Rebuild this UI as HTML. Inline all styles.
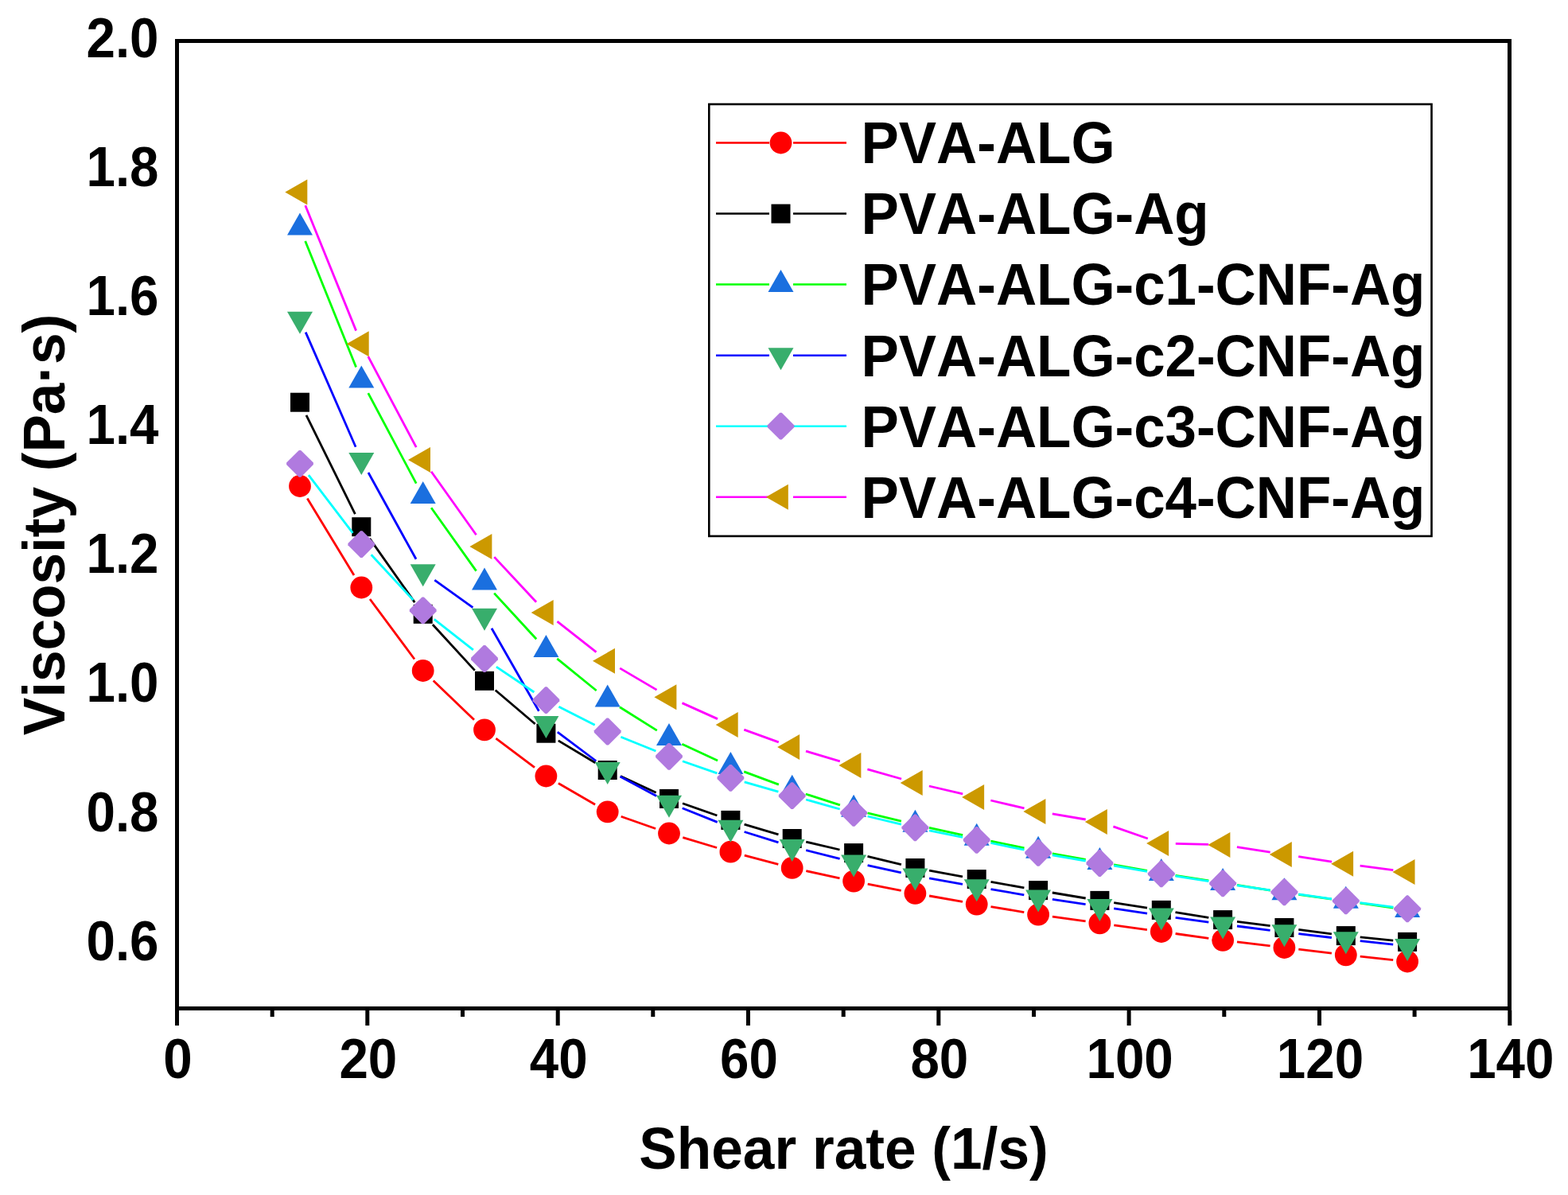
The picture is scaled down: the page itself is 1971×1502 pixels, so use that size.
<!DOCTYPE html>
<html><head><meta charset="utf-8"><title>Viscosity vs Shear rate</title>
<style>html,body{margin:0;padding:0;background:#fff;}svg{display:block;}</style></head>
<body>
<svg width="1971" height="1502" viewBox="0 0 1971 1502">
<rect width="1971" height="1502" fill="#fff"/>
<path d="M386.3 626.4L445.0 723.1M465.0 753.0L521.0 828.5M544.7 855.5L596.0 904.8M623.4 928.1L672.0 964.7M701.9 984.5L748.1 1011.3M780.7 1026.3L824.1 1041.5M858.3 1052.7L901.1 1065.5M935.8 1075.2L978.3 1086.4M1013.3 1094.7L1055.5 1103.8M1090.7 1111.1L1132.7 1119.3M1168.1 1126.0L1210.0 1133.4M1245.5 1139.6L1287.3 1146.6M1322.9 1152.1L1364.6 1157.9M1400.3 1162.8L1441.9 1168.6M1477.6 1173.5L1519.3 1179.3M1555.0 1183.9L1596.6 1188.9M1632.3 1193.1L1673.9 1198.2M1709.7 1202.2L1751.2 1206.6" stroke="#FF0000" stroke-width="2.8" fill="none"/>
<circle cx="377.0" cy="611.0" r="13.9" fill="#FF0000"/>
<circle cx="454.3" cy="738.5" r="13.9" fill="#FF0000"/>
<circle cx="531.7" cy="843.0" r="13.9" fill="#FF0000"/>
<circle cx="609.0" cy="917.3" r="13.9" fill="#FF0000"/>
<circle cx="686.4" cy="975.5" r="13.9" fill="#FF0000"/>
<circle cx="763.7" cy="1020.3" r="13.9" fill="#FF0000"/>
<circle cx="841.0" cy="1047.5" r="13.9" fill="#FF0000"/>
<circle cx="918.4" cy="1070.7" r="13.9" fill="#FF0000"/>
<circle cx="995.7" cy="1090.9" r="13.9" fill="#FF0000"/>
<circle cx="1073.1" cy="1107.6" r="13.9" fill="#FF0000"/>
<circle cx="1150.4" cy="1122.8" r="13.9" fill="#FF0000"/>
<circle cx="1227.7" cy="1136.6" r="13.9" fill="#FF0000"/>
<circle cx="1305.1" cy="1149.6" r="13.9" fill="#FF0000"/>
<circle cx="1382.4" cy="1160.4" r="13.9" fill="#FF0000"/>
<circle cx="1459.8" cy="1171.0" r="13.9" fill="#FF0000"/>
<circle cx="1537.1" cy="1181.8" r="13.9" fill="#FF0000"/>
<circle cx="1614.4" cy="1191.0" r="13.9" fill="#FF0000"/>
<circle cx="1691.8" cy="1200.3" r="13.9" fill="#FF0000"/>
<circle cx="1769.1" cy="1208.5" r="13.9" fill="#FF0000"/>
<path d="M385.0 521.8L446.4 646.1M464.7 676.9L521.3 757.1M543.9 785.0L596.8 842.6M622.7 867.5L672.7 910.0M701.8 930.9L748.3 958.8M780.0 975.6L824.7 996.3M858.0 1009.8L901.4 1025.0M935.6 1036.1L978.5 1048.8M1013.2 1058.1L1055.5 1068.0M1090.5 1076.4L1132.9 1086.7M1168.1 1094.2L1210.0 1101.9M1245.5 1108.3L1287.4 1115.9M1322.8 1122.0L1364.7 1129.0M1400.2 1134.7L1442.0 1141.1M1477.5 1146.7L1519.3 1153.3M1555.0 1158.4L1596.6 1163.7M1632.3 1168.3L1673.9 1173.8M1709.7 1177.9L1751.2 1182.1" stroke="#000000" stroke-width="2.8" fill="none"/>
<rect x="365.0" y="493.7" width="24" height="24" fill="#000000"/>
<rect x="442.3" y="650.2" width="24" height="24" fill="#000000"/>
<rect x="519.7" y="759.8" width="24" height="24" fill="#000000"/>
<rect x="597.0" y="843.8" width="24" height="24" fill="#000000"/>
<rect x="674.4" y="909.7" width="24" height="24" fill="#000000"/>
<rect x="751.7" y="956.0" width="24" height="24" fill="#000000"/>
<rect x="829.0" y="991.9" width="24" height="24" fill="#000000"/>
<rect x="906.4" y="1018.9" width="24" height="24" fill="#000000"/>
<rect x="983.7" y="1042.0" width="24" height="24" fill="#000000"/>
<rect x="1061.1" y="1060.1" width="24" height="24" fill="#000000"/>
<rect x="1138.4" y="1079.0" width="24" height="24" fill="#000000"/>
<rect x="1215.7" y="1093.1" width="24" height="24" fill="#000000"/>
<rect x="1293.1" y="1107.1" width="24" height="24" fill="#000000"/>
<rect x="1370.4" y="1119.9" width="24" height="24" fill="#000000"/>
<rect x="1447.8" y="1131.9" width="24" height="24" fill="#000000"/>
<rect x="1525.1" y="1144.1" width="24" height="24" fill="#000000"/>
<rect x="1602.4" y="1154.0" width="24" height="24" fill="#000000"/>
<rect x="1679.8" y="1164.1" width="24" height="24" fill="#000000"/>
<rect x="1757.1" y="1171.9" width="24" height="24" fill="#000000"/>
<path d="M383.7 303.0L447.6 461.5M462.8 494.1L523.2 607.7M542.1 638.3L598.6 717.6M621.2 745.6L674.2 803.3M700.3 827.9L749.7 868.0M779.0 888.8L825.8 918.1M857.4 935.2L902.1 956.0M935.2 969.9L978.9 986.1M1012.8 998.0L1055.9 1011.9M1090.5 1021.8L1132.9 1032.2M1168.0 1040.4L1210.2 1049.6M1245.4 1057.1L1287.5 1065.9M1322.8 1072.8L1364.7 1080.4M1400.1 1086.9L1442.0 1094.5M1477.6 1100.4L1519.3 1106.9M1554.9 1112.4L1596.7 1119.1M1632.3 1124.3L1673.9 1130.1M1709.6 1135.1L1751.3 1141.0" stroke="#00FF00" stroke-width="2.8" fill="none"/>
<polygon points="377.0,267.6 393.0,295.6 361.0,295.6" fill="#1A6FDF"/>
<polygon points="454.3,459.5 470.3,487.5 438.3,487.5" fill="#1A6FDF"/>
<polygon points="531.7,604.9 547.7,632.9 515.7,632.9" fill="#1A6FDF"/>
<polygon points="609.0,713.6 625.0,741.6 593.0,741.6" fill="#1A6FDF"/>
<polygon points="686.4,797.9 702.4,825.9 670.4,825.9" fill="#1A6FDF"/>
<polygon points="763.7,860.6 779.7,888.6 747.7,888.6" fill="#1A6FDF"/>
<polygon points="841.0,908.9 857.0,936.9 825.0,936.9" fill="#1A6FDF"/>
<polygon points="918.4,944.9 934.4,972.9 902.4,972.9" fill="#1A6FDF"/>
<polygon points="995.7,973.7 1011.7,1001.7 979.7,1001.7" fill="#1A6FDF"/>
<polygon points="1073.1,998.8 1089.1,1026.8 1057.1,1026.8" fill="#1A6FDF"/>
<polygon points="1150.4,1017.8 1166.4,1045.8 1134.4,1045.8" fill="#1A6FDF"/>
<polygon points="1227.7,1034.8 1243.7,1062.8 1211.7,1062.8" fill="#1A6FDF"/>
<polygon points="1305.1,1050.8 1321.1,1078.8 1289.1,1078.8" fill="#1A6FDF"/>
<polygon points="1382.4,1065.0 1398.4,1093.0 1366.4,1093.0" fill="#1A6FDF"/>
<polygon points="1459.8,1079.0 1475.8,1107.0 1443.8,1107.0" fill="#1A6FDF"/>
<polygon points="1537.1,1090.9 1553.1,1118.9 1521.1,1118.9" fill="#1A6FDF"/>
<polygon points="1614.4,1103.2 1630.4,1131.2 1598.4,1131.2" fill="#1A6FDF"/>
<polygon points="1691.8,1113.8 1707.8,1141.8 1675.8,1141.8" fill="#1A6FDF"/>
<polygon points="1769.1,1124.9 1785.1,1152.9 1753.1,1152.9" fill="#1A6FDF"/>
<path d="M384.2 417.6L447.1 561.7M463.0 594.0L523.0 702.8M546.3 729.1L594.4 763.6M618.0 789.7L677.4 893.7M700.8 920.1L749.3 956.5M779.5 975.9L825.2 1000.5M857.7 1015.8L901.7 1033.4M935.6 1045.5L978.5 1058.9M1013.2 1068.7L1055.6 1079.3M1090.6 1087.6L1132.8 1096.8M1168.1 1103.9L1210.0 1111.4M1245.5 1117.6L1287.3 1124.8M1322.9 1130.4L1364.6 1136.7M1400.2 1141.9L1442.0 1148.2M1477.6 1153.3L1519.3 1159.2M1555.0 1164.0L1596.6 1169.3M1632.3 1173.7L1673.9 1178.5M1709.7 1182.6L1751.2 1187.2" stroke="#0000FF" stroke-width="2.8" fill="none"/>
<polygon points="377.0,419.8 393.0,391.8 361.0,391.8" fill="#38AE6C"/>
<polygon points="454.3,596.9 470.3,568.9 438.3,568.9" fill="#38AE6C"/>
<polygon points="531.7,737.3 547.7,709.3 515.7,709.3" fill="#38AE6C"/>
<polygon points="609.0,792.8 625.0,764.8 593.0,764.8" fill="#38AE6C"/>
<polygon points="686.4,928.0 702.4,900.0 670.4,900.0" fill="#38AE6C"/>
<polygon points="763.7,986.0 779.7,958.0 747.7,958.0" fill="#38AE6C"/>
<polygon points="841.0,1027.8 857.0,999.8 825.0,999.8" fill="#38AE6C"/>
<polygon points="918.4,1058.8 934.4,1030.8 902.4,1030.8" fill="#38AE6C"/>
<polygon points="995.7,1083.0 1011.7,1055.0 979.7,1055.0" fill="#38AE6C"/>
<polygon points="1073.1,1102.4 1089.1,1074.4 1057.1,1074.4" fill="#38AE6C"/>
<polygon points="1150.4,1119.4 1166.4,1091.4 1134.4,1091.4" fill="#38AE6C"/>
<polygon points="1227.7,1133.3 1243.7,1105.3 1211.7,1105.3" fill="#38AE6C"/>
<polygon points="1305.1,1146.5 1321.1,1118.5 1289.1,1118.5" fill="#38AE6C"/>
<polygon points="1382.4,1158.0 1398.4,1130.0 1366.4,1130.0" fill="#38AE6C"/>
<polygon points="1459.8,1169.5 1475.8,1141.5 1443.8,1141.5" fill="#38AE6C"/>
<polygon points="1537.1,1180.4 1553.1,1152.4 1521.1,1152.4" fill="#38AE6C"/>
<polygon points="1614.4,1190.3 1630.4,1162.3 1598.4,1162.3" fill="#38AE6C"/>
<polygon points="1691.8,1199.3 1707.8,1171.3 1675.8,1171.3" fill="#38AE6C"/>
<polygon points="1769.1,1207.9 1785.1,1179.9 1753.1,1179.9" fill="#38AE6C"/>
<path d="M387.9 597.1L443.4 669.8M466.6 697.3L519.4 754.1M545.8 778.4L594.9 816.9M623.9 838.1L671.4 870.0M702.4 888.3L747.7 911.3M780.4 926.3L824.4 944.0M858.0 956.7L901.4 971.9M935.7 982.8L978.4 995.2M1013.1 1005.0L1055.7 1017.0M1090.6 1026.0L1132.9 1036.2M1168.1 1043.9L1210.1 1052.3M1245.4 1059.5L1287.5 1068.2M1322.8 1074.9L1364.7 1082.0M1400.2 1088.1L1442.0 1095.3M1477.5 1101.2L1519.3 1107.6M1554.9 1112.9L1596.6 1118.9M1632.3 1123.9L1674.0 1129.9M1709.6 1134.7L1751.3 1140.1" stroke="#00FFFF" stroke-width="2.8" fill="none"/>
<polygon points="375.8,565.9 378.2,565.9 393.9,581.6 393.9,584.0 378.2,599.7 375.8,599.7 360.1,584.0 360.1,581.6" fill="#B07ADF"/>
<polygon points="453.1,667.2 455.5,667.2 471.2,682.9 471.2,685.3 455.5,701.0 453.1,701.0 437.4,685.3 437.4,682.9" fill="#B07ADF"/>
<polygon points="530.5,750.4 532.9,750.4 548.6,766.1 548.6,768.5 532.9,784.2 530.5,784.2 514.8,768.5 514.8,766.1" fill="#B07ADF"/>
<polygon points="607.8,811.1 610.2,811.1 625.9,826.8 625.9,829.2 610.2,844.9 607.8,844.9 592.1,829.2 592.1,826.8" fill="#B07ADF"/>
<polygon points="685.2,863.2 687.6,863.2 703.3,878.9 703.3,881.3 687.6,897.0 685.2,897.0 669.5,881.3 669.5,878.9" fill="#B07ADF"/>
<polygon points="762.5,902.6 764.9,902.6 780.6,918.3 780.6,920.7 764.9,936.4 762.5,936.4 746.8,920.7 746.8,918.3" fill="#B07ADF"/>
<polygon points="839.8,933.9 842.2,933.9 857.9,949.6 857.9,952.0 842.2,967.7 839.8,967.7 824.1,952.0 824.1,949.6" fill="#B07ADF"/>
<polygon points="917.2,960.9 919.6,960.9 935.3,976.6 935.3,979.0 919.6,994.7 917.2,994.7 901.5,979.0 901.5,976.6" fill="#B07ADF"/>
<polygon points="994.5,983.3 996.9,983.3 1012.6,999.0 1012.6,1001.4 996.9,1017.1 994.5,1017.1 978.8,1001.4 978.8,999.0" fill="#B07ADF"/>
<polygon points="1071.9,1004.9 1074.3,1004.9 1090.0,1020.6 1090.0,1023.0 1074.3,1038.7 1071.9,1038.7 1056.2,1023.0 1056.2,1020.6" fill="#B07ADF"/>
<polygon points="1149.2,1023.5 1151.6,1023.5 1167.3,1039.2 1167.3,1041.6 1151.6,1057.3 1149.2,1057.3 1133.5,1041.6 1133.5,1039.2" fill="#B07ADF"/>
<polygon points="1226.5,1038.9 1228.9,1038.9 1244.6,1054.6 1244.6,1057.0 1228.9,1072.7 1226.5,1072.7 1210.8,1057.0 1210.8,1054.6" fill="#B07ADF"/>
<polygon points="1303.9,1055.0 1306.3,1055.0 1322.0,1070.7 1322.0,1073.1 1306.3,1088.8 1303.9,1088.8 1288.2,1073.1 1288.2,1070.7" fill="#B07ADF"/>
<polygon points="1381.2,1068.1 1383.6,1068.1 1399.3,1083.8 1399.3,1086.2 1383.6,1101.9 1381.2,1101.9 1365.5,1086.2 1365.5,1083.8" fill="#B07ADF"/>
<polygon points="1458.6,1081.5 1461.0,1081.5 1476.7,1097.2 1476.7,1099.6 1461.0,1115.3 1458.6,1115.3 1442.9,1099.6 1442.9,1097.2" fill="#B07ADF"/>
<polygon points="1535.9,1093.5 1538.3,1093.5 1554.0,1109.2 1554.0,1111.6 1538.3,1127.3 1535.9,1127.3 1520.2,1111.6 1520.2,1109.2" fill="#B07ADF"/>
<polygon points="1613.2,1104.5 1615.6,1104.5 1631.3,1120.2 1631.3,1122.6 1615.6,1138.3 1613.2,1138.3 1597.5,1122.6 1597.5,1120.2" fill="#B07ADF"/>
<polygon points="1690.6,1115.5 1693.0,1115.5 1708.7,1131.2 1708.7,1133.6 1693.0,1149.3 1690.6,1149.3 1674.9,1133.6 1674.9,1131.2" fill="#B07ADF"/>
<polygon points="1767.9,1125.5 1770.3,1125.5 1786.0,1141.2 1786.0,1143.6 1770.3,1159.3 1767.9,1159.3 1752.2,1143.6 1752.2,1141.2" fill="#B07ADF"/>
<path d="M383.8 258.3L447.6 415.6M462.8 448.2L523.2 562.2M542.1 592.8L598.6 672.2M621.3 700.1L674.1 756.8M700.5 781.1L749.5 819.7M779.2 839.9L825.5 867.1M857.5 883.6L902.0 903.6M935.3 917.1L978.8 932.9M1013.0 944.1L1055.8 956.8M1090.4 966.8L1133.1 979.0M1167.9 988.0L1210.2 997.8M1245.3 1006.0L1287.5 1015.8M1322.8 1022.9L1364.7 1030.0M1399.4 1038.9L1442.8 1054.0M1477.8 1060.4L1519.1 1061.4M1554.9 1064.7L1596.7 1071.1M1632.2 1076.6L1674.0 1083.1M1709.6 1088.2L1751.3 1093.6" stroke="#FF00FF" stroke-width="2.8" fill="none"/>
<polygon points="358.3,241.6 386.3,225.6 386.3,257.6" fill="#CC9900"/>
<polygon points="435.7,432.3 463.7,416.3 463.7,448.3" fill="#CC9900"/>
<polygon points="513.0,578.1 541.0,562.1 541.0,594.1" fill="#CC9900"/>
<polygon points="590.4,686.9 618.4,670.9 618.4,702.9" fill="#CC9900"/>
<polygon points="667.7,770.0 695.7,754.0 695.7,786.0" fill="#CC9900"/>
<polygon points="745.0,830.8 773.0,814.8 773.0,846.8" fill="#CC9900"/>
<polygon points="822.4,876.2 850.4,860.2 850.4,892.2" fill="#CC9900"/>
<polygon points="899.7,911.0 927.7,895.0 927.7,927.0" fill="#CC9900"/>
<polygon points="977.1,939.0 1005.1,923.0 1005.1,955.0" fill="#CC9900"/>
<polygon points="1054.4,961.9 1082.4,945.9 1082.4,977.9" fill="#CC9900"/>
<polygon points="1131.7,983.9 1159.7,967.9 1159.7,999.9" fill="#CC9900"/>
<polygon points="1209.1,1001.9 1237.1,985.9 1237.1,1017.9" fill="#CC9900"/>
<polygon points="1286.4,1019.9 1314.4,1003.9 1314.4,1035.9" fill="#CC9900"/>
<polygon points="1363.8,1033.0 1391.8,1017.0 1391.8,1049.0" fill="#CC9900"/>
<polygon points="1441.1,1059.9 1469.1,1043.9 1469.1,1075.9" fill="#CC9900"/>
<polygon points="1518.4,1061.9 1546.4,1045.9 1546.4,1077.9" fill="#CC9900"/>
<polygon points="1595.8,1073.9 1623.8,1057.9 1623.8,1089.9" fill="#CC9900"/>
<polygon points="1673.1,1085.8 1701.1,1069.8 1701.1,1101.8" fill="#CC9900"/>
<polygon points="1750.5,1096.0 1778.5,1080.0 1778.5,1112.0" fill="#CC9900"/>
<rect x="222.5" y="51.5" width="1675" height="1216" fill="none" stroke="#000" stroke-width="5"/>
<path d="M222.5 1270V1289M342.2 1270V1278M461.8 1270V1289M581.5 1270V1278M701.2 1270V1289M820.8 1270V1278M940.5 1270V1289M1060.2 1270V1278M1179.8 1270V1289M1299.5 1270V1278M1419.1 1270V1289M1538.8 1270V1278M1658.5 1270V1289M1778.1 1270V1278M1897.8 1270V1289" stroke="#000" stroke-width="5" fill="none"/>
<text transform="translate(223.5,1355) scale(1,1.08)" text-anchor="middle" font-family="'Liberation Sans', sans-serif" font-weight="bold" style="font-kerning:none" font-size="65.5">0</text>
<text transform="translate(462.8,1355) scale(1,1.08)" text-anchor="middle" font-family="'Liberation Sans', sans-serif" font-weight="bold" style="font-kerning:none" font-size="65.5">20</text>
<text transform="translate(702.2,1355) scale(1,1.08)" text-anchor="middle" font-family="'Liberation Sans', sans-serif" font-weight="bold" style="font-kerning:none" font-size="65.5">40</text>
<text transform="translate(941.5,1355) scale(1,1.08)" text-anchor="middle" font-family="'Liberation Sans', sans-serif" font-weight="bold" style="font-kerning:none" font-size="65.5">60</text>
<text transform="translate(1180.8,1355) scale(1,1.08)" text-anchor="middle" font-family="'Liberation Sans', sans-serif" font-weight="bold" style="font-kerning:none" font-size="65.5">80</text>
<text transform="translate(1420.1,1355) scale(1,1.08)" text-anchor="middle" font-family="'Liberation Sans', sans-serif" font-weight="bold" style="font-kerning:none" font-size="65.5">100</text>
<text transform="translate(1659.5,1355) scale(1,1.08)" text-anchor="middle" font-family="'Liberation Sans', sans-serif" font-weight="bold" style="font-kerning:none" font-size="65.5">120</text>
<text transform="translate(1898.8,1355) scale(1,1.08)" text-anchor="middle" font-family="'Liberation Sans', sans-serif" font-weight="bold" style="font-kerning:none" font-size="65.5">140</text>
<text transform="translate(199.5,1206.6) scale(1,1.08)" text-anchor="end" font-family="'Liberation Sans', sans-serif" font-weight="bold" style="font-kerning:none" font-size="65.5">0.6</text>
<text transform="translate(199.5,1044.5) scale(1,1.08)" text-anchor="end" font-family="'Liberation Sans', sans-serif" font-weight="bold" style="font-kerning:none" font-size="65.5">0.8</text>
<text transform="translate(199.5,882.4) scale(1,1.08)" text-anchor="end" font-family="'Liberation Sans', sans-serif" font-weight="bold" style="font-kerning:none" font-size="65.5">1.0</text>
<text transform="translate(199.5,720.2) scale(1,1.08)" text-anchor="end" font-family="'Liberation Sans', sans-serif" font-weight="bold" style="font-kerning:none" font-size="65.5">1.2</text>
<text transform="translate(199.5,558.1) scale(1,1.08)" text-anchor="end" font-family="'Liberation Sans', sans-serif" font-weight="bold" style="font-kerning:none" font-size="65.5">1.4</text>
<text transform="translate(199.5,396.0) scale(1,1.08)" text-anchor="end" font-family="'Liberation Sans', sans-serif" font-weight="bold" style="font-kerning:none" font-size="65.5">1.6</text>
<text transform="translate(199.5,233.8) scale(1,1.08)" text-anchor="end" font-family="'Liberation Sans', sans-serif" font-weight="bold" style="font-kerning:none" font-size="65.5">1.8</text>
<text transform="translate(199.5,71.7) scale(1,1.08)" text-anchor="end" font-family="'Liberation Sans', sans-serif" font-weight="bold" style="font-kerning:none" font-size="65.5">2.0</text>
<text transform="translate(1060.5,1469) scale(1,1.03)" text-anchor="middle" font-family="'Liberation Sans', sans-serif" font-weight="bold" style="font-kerning:none" font-size="71.2">Shear rate (1/s)</text>
<text transform="translate(81,659.5) rotate(-90) scale(1,1.033)" text-anchor="middle" font-family="'Liberation Sans', sans-serif" font-weight="bold" style="font-kerning:none" font-size="71.13">Viscosity (Pa·s)</text>
<rect x="891.3" y="131" width="908.2" height="542.9" fill="#fff" stroke="#000" stroke-width="2.6"/>
<path d="M900 179.5H967M997 179.5H1064" stroke="#FF0000" stroke-width="2.5" fill="none"/>
<circle cx="981.5" cy="179.5" r="13.9" fill="#FF0000"/>
<text transform="translate(1082.5,205.0) scale(1,1.04)" font-family="'Liberation Sans', sans-serif" font-weight="bold" style="font-kerning:none" font-size="70.9">PVA-ALG</text>
<path d="M900 268.6H967M997 268.6H1064" stroke="#000000" stroke-width="2.5" fill="none"/>
<rect x="969.5" y="256.6" width="24" height="24" fill="#000000"/>
<text transform="translate(1082.5,294.2) scale(1,1.04)" font-family="'Liberation Sans', sans-serif" font-weight="bold" style="font-kerning:none" font-size="70.9">PVA-ALG-Ag</text>
<path d="M900 357.6H967M997 357.6H1064" stroke="#00FF00" stroke-width="2.5" fill="none"/>
<polygon points="981.5,339.0 997.5,367.0 965.5,367.0" fill="#1A6FDF"/>
<text transform="translate(1082.5,383.4) scale(1,1.04)" font-family="'Liberation Sans', sans-serif" font-weight="bold" style="font-kerning:none" font-size="70.9">PVA-ALG-c1-CNF-Ag</text>
<path d="M900 446.7H967M997 446.7H1064" stroke="#0000FF" stroke-width="2.5" fill="none"/>
<polygon points="981.5,465.3 997.5,437.3 965.5,437.3" fill="#38AE6C"/>
<text transform="translate(1082.5,472.6) scale(1,1.04)" font-family="'Liberation Sans', sans-serif" font-weight="bold" style="font-kerning:none" font-size="70.9">PVA-ALG-c2-CNF-Ag</text>
<path d="M900 535.7H967M997 535.7H1064" stroke="#00FFFF" stroke-width="2.5" fill="none"/>
<polygon points="980.3,518.8 982.7,518.8 998.4,534.5 998.4,536.9 982.7,552.6 980.3,552.6 964.6,536.9 964.6,534.5" fill="#B07ADF"/>
<text transform="translate(1082.5,561.8) scale(1,1.04)" font-family="'Liberation Sans', sans-serif" font-weight="bold" style="font-kerning:none" font-size="70.9">PVA-ALG-c3-CNF-Ag</text>
<path d="M900 624.8H967M997 624.8H1064" stroke="#FF00FF" stroke-width="2.5" fill="none"/>
<polygon points="962.8,624.8 990.8,608.8 990.8,640.8" fill="#CC9900"/>
<text transform="translate(1082.5,651.0) scale(1,1.04)" font-family="'Liberation Sans', sans-serif" font-weight="bold" style="font-kerning:none" font-size="70.9">PVA-ALG-c4-CNF-Ag</text>
</svg>
</body></html>
